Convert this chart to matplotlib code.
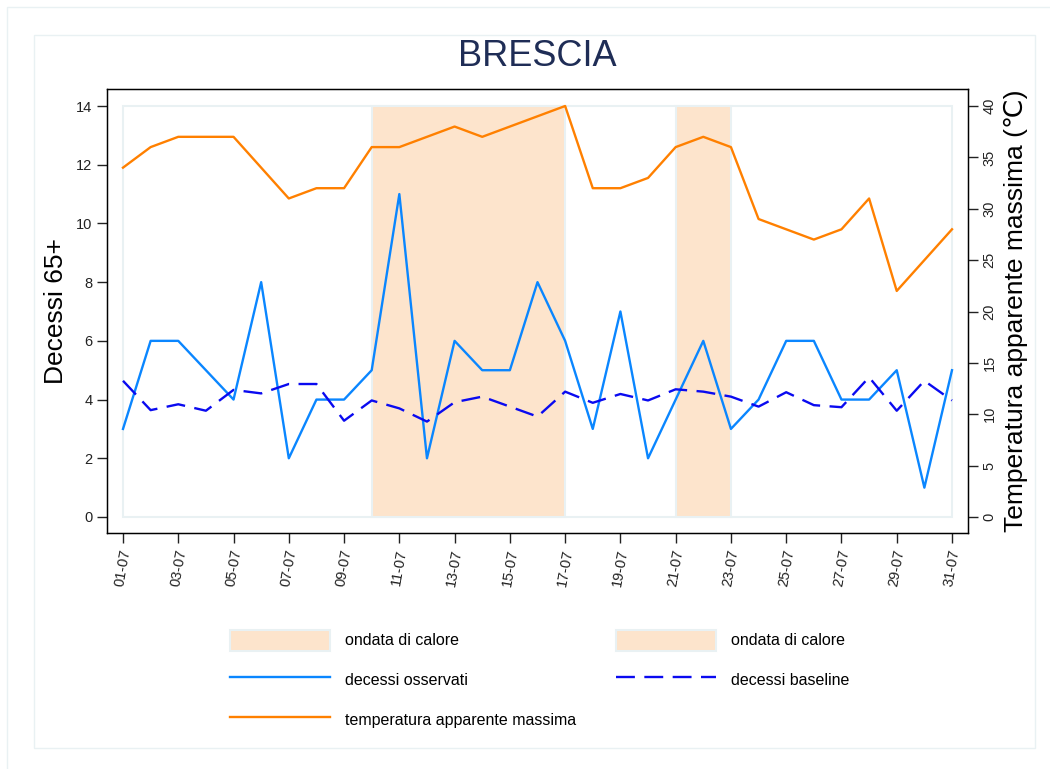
import matplotlib
matplotlib.use("Agg")
import matplotlib.pyplot as plt
from matplotlib.patches import Rectangle, Patch
from matplotlib.lines import Line2D

plt.rcParams['font.family'] = ['Liberation Sans', 'DejaVu Sans']

W, H = 1050, 769

# data
days = list(range(1, 32))
obs = [3, 6, 6, 5, 4, 8, 2, 4, 4, 5, 11, 2, 6, 5, 5, 8, 6, 3, 7, 2,
       4, 6, 3, 4, 6, 6, 4, 4, 5, 1, 5]
baseline = [4.64, 3.64, 3.84, 3.62, 4.33, 4.21, 4.53, 4.53, 3.28, 3.97,
            3.70, 3.25, 3.91, 4.10, 3.76, 3.42, 4.27, 3.89, 4.19, 3.97,
            4.35, 4.27, 4.10, 3.76, 4.25, 3.81, 3.74, 4.76, 3.62, 4.64, 3.97]
temp = [34, 36, 37, 37, 37, 34, 31, 32, 32, 36, 36, 37, 38, 37, 38, 39,
        40, 32, 32, 33, 36, 37, 36, 29, 28, 27, 28, 31, 22, 25, 28]
wave_start = [10, 21]
wave_end = [17, 23]
xtick_days = list(range(1, 32, 2))
xtick_labels = [f"{d:02d}-07" for d in xtick_days]

C_OBS = '#0A86FF'
C_BASE = '#0A0AF0'
C_TEMP = '#FF8000'
C_WAVE = '#FDE4CC'
C_FRAME = '#E9F1F3'

fig = plt.figure(figsize=(W / 100, H / 100), dpi=100)

# page frames
fig.patches.append(Rectangle((7 / W, -0.1), 1.2, 1 - 7 / H + 0.1, transform=fig.transFigure,
                             fill=False, edgecolor=C_FRAME, lw=1))
fig.patches.append(Rectangle((34 / W, 1 - 748 / H), (1035 - 34) / W, (748 - 35) / H,
                             transform=fig.transFigure, fill=False, edgecolor=C_FRAME, lw=1))

# axes box in pixels
x0, x1, y0, y1 = 107, 968, 89, 533
ax = fig.add_axes([x0 / W, 1 - y1 / H, (x1 - x0) / W, (y1 - y0) / H])
px_day = (952 - 123) / 30
px_unit = (517 - 106) / 14
ax.set_xlim(1 - 16 / px_day, 31 + 16 / px_day)
ax.set_ylim(-16 / px_unit, 14 + 17 / px_unit)

# plot region
ax.add_patch(Rectangle((1, 0), 30, 14, fill=False, edgecolor=C_FRAME, lw=1.5, zorder=0.5))

for s, e in zip(wave_start, wave_end):
    ax.bar(s, 14, width=e - s, align='edge', color=C_WAVE, edgecolor=C_FRAME, lw=1.5, zorder=1)

ax.plot(days, obs, color=C_OBS, lw=1.7, zorder=3)
ax.plot(days, baseline, color=C_BASE, lw=1.7, dashes=(8, 4), zorder=3)

ax.set_yticks(range(0, 15, 2))
ax.set_xticks(xtick_days)
ax.set_xticklabels(xtick_labels, rotation=80)
ax.tick_params(axis='both', direction='out', length=7, width=1, labelsize=10.5, colors='#222222')
ax.tick_params(axis='x', pad=4)
ax.set_ylabel("Decessi 65+", fontsize=19, labelpad=6)
for sp in ax.spines.values():
    sp.set_linewidth(1)

ax2 = ax.twinx()
k = 40 / 14
lo, hi = ax.get_ylim()
ax2.set_ylim(lo * k, hi * k)
ax2.plot(days, temp, color=C_TEMP, lw=1.7, zorder=3)
ax2.set_yticks(range(0, 41, 5))
ax2.tick_params(axis='y', direction='out', length=7, width=1, labelsize=10.5, colors='#222222')
for lab in ax2.get_yticklabels():
    lab.set_rotation(90)
    lab.set_va('center')
ax2.set_ylabel("Temperatura apparente massima (℃)", fontsize=19, labelpad=5)

fig.text(537 / W, 1 - 57 / H, "BRESCIA", ha='center', va='center', fontsize=26, color='#1F2D56')

handles = [
    Patch(facecolor=C_WAVE, edgecolor=C_FRAME, lw=1.5, label='ondata di calore'),
    Line2D([], [], color=C_OBS, lw=1.7, label='decessi osservati'),
    Line2D([], [], color=C_TEMP, lw=1.7, label='temperatura apparente massima'),
    Patch(facecolor=C_WAVE, edgecolor=C_FRAME, lw=1.5, label='ondata di calore'),
    Line2D([], [], color=C_BASE, lw=1.7, dashes=(8, 4), label='decessi baseline'),
]
fig.legend(handles=handles, ncol=2, loc='upper left', bbox_to_anchor=(222 / W, 1 - 622 / H),
           frameon=False, fontsize=11.5, handlelength=6.25, handleheight=1.6,
           handletextpad=0.95, columnspacing=2.5, labelspacing=1.2, borderpad=0)

fig.savefig("out.png", dpi=100)
